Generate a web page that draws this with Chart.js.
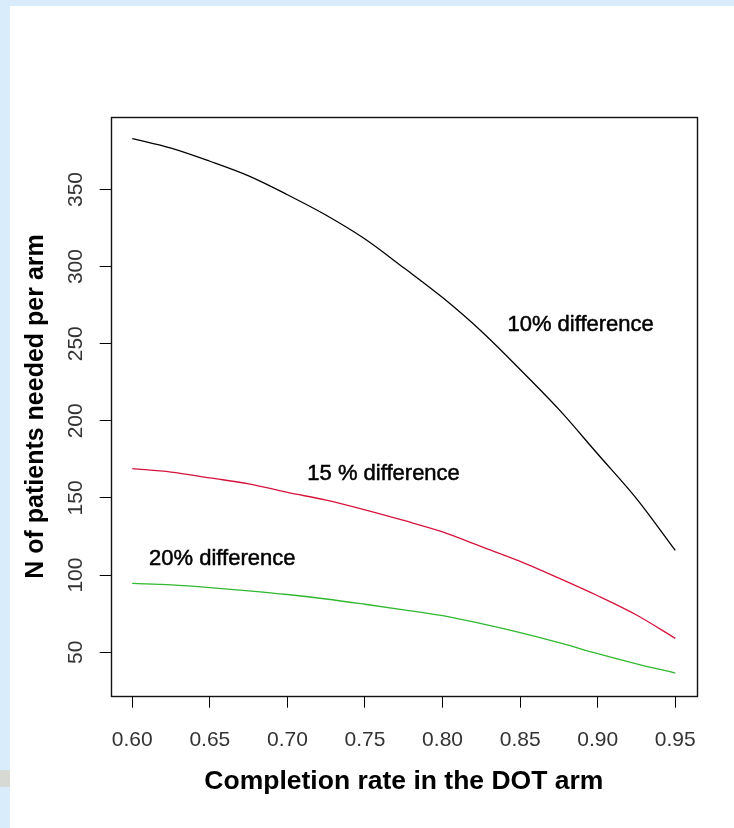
<!DOCTYPE html>
<html><head><meta charset="utf-8">
<script src="https://cdn.jsdelivr.net/npm/chart.js@4"></script>
<style>
html,body{margin:0;padding:0;width:734px;height:828px;overflow:hidden;background:#d8ecfc;}
#panel{position:absolute;left:10px;top:6px;width:724px;height:822px;background:#fff;}
#gray{position:absolute;left:0;top:770px;width:10px;height:17px;background:#d6d9d4;}
#wrap{position:absolute;left:0;top:0;width:734px;height:828px;}
</style></head><body>
<div id="panel"></div><div id="gray"></div>
<div id="wrap"><canvas id="c" width="734" height="828"></canvas></div>
<script>
// ---- data ----
const completionRates = [0.600,0.625,0.650,0.675,0.700,0.725,0.750,0.775,0.800,0.825,0.850,0.875,0.900,0.925,0.950];
const diff10 = [383,376.8,368.3,358.8,346.6,333.3,317.9,299.2,279.9,258.1,233.3,207.4,178.5,149.6,116];
const diff15 = [169,166.8,163.0,159.2,153.6,148.6,142.3,135.4,128,118.4,108.9,98,86.6,74.1,59];
const diff20 = [94.6,93.6,91.9,89.8,87.4,84.5,81.1,77.5,73.7,68.5,62.7,56.2,49.1,42.5,36.5];
const xTickValues = [0.60,0.65,0.70,0.75,0.80,0.85,0.90,0.95];
const yTickValues = [50,100,150,200,250,300,350];
const curveLabels = ['10% difference','15 % difference','20% difference'];
const curveLabelX = [0.889,0.762,0.658];
const curveLabelY = [262,165.4,110.4];
const xTitle = 'Completion rate in the DOT arm';
const yTitle = 'N of patients needed per arm';

const toPts = vals => completionRates.map((r,i)=>({x:r,y:vals[i]}));

const FONT = 'Liberation Sans, Arial, sans-serif';

const frame = {
  id:'frame',
  afterDatasetsDraw(chart){
    const {ctx, chartArea:a, scales:{x,y}} = chart;
    ctx.save();
    ctx.strokeStyle='#111'; ctx.lineWidth=1.4;
    const l=Math.round(a.left)+0.5, t=Math.round(a.top)+0.5, r=Math.round(a.right)+0.5, b=Math.round(a.bottom)+0.5;
    ctx.strokeRect(l,t,r-l,b-t);
    ctx.font='22px '+FONT; ctx.fillStyle='#000'; ctx.strokeStyle='#000'; ctx.lineWidth=0.5;
    ctx.textAlign='center'; ctx.textBaseline='middle';
    curveLabels.forEach((txt,i)=>{
      const px=x.getPixelForValue(curveLabelX[i]), py=y.getPixelForValue(curveLabelY[i]);
      ctx.fillText(txt, px, py);
      ctx.strokeText(txt, px, py);
    });
    ctx.restore();
  }
};

new Chart(document.getElementById('c'), {
  type:'line',
  data:{datasets:[
    {label:'10% difference', data:toPts(diff10), borderColor:'#000000', borderWidth:1.3, pointRadius:0, cubicInterpolationMode:'monotone'},
    {label:'15 % difference', data:toPts(diff15), borderColor:'#d4143c', borderWidth:1.3, pointRadius:0, cubicInterpolationMode:'monotone'},
    {label:'20% difference', data:toPts(diff20), borderColor:'#30b830', borderWidth:1.3, pointRadius:0, cubicInterpolationMode:'monotone'}
  ]},
  options:{
    responsive:false, animation:false, devicePixelRatio:1,
    layout:{padding:{left:0, top:117.3, right:37, bottom:0}},
    plugins:{legend:{display:false}, tooltip:{enabled:false}},
    scales:{
      x:{type:'linear', min:0.5861, max:0.964,
        afterBuildTicks:s=>{s.ticks=xTickValues.map(v=>({value:v}));},
        afterFit:s=>{s.height=828-695.7;},
        ticks:{callback:v=>Number(v).toFixed(2), font:{family:FONT,size:21}, color:'#333', padding:20, maxRotation:0, autoSkip:false},
        grid:{drawOnChartArea:false, drawTicks:true, tickLength:12, color:'#000', lineWidth:1},
        border:{display:false},
        title:{display:true, text:xTitle, color:'#000', font:{family:FONT,size:26.5,weight:'bold'}, padding:{top:0,bottom:30}}
      },
      y:{type:'linear', min:21.8, max:396.8,
        afterBuildTicks:s=>{s.ticks=yTickValues.map(v=>({value:v}));},
        afterFit:s=>{s.width=110.7;},
        ticks:{font:{family:FONT,size:21}, color:'#333', padding:6.4, crossAlign:'center', minRotation:90, maxRotation:90, autoSkip:false},
        grid:{drawOnChartArea:false, drawTicks:true, tickLength:11, color:'#000', lineWidth:1},
        border:{display:false},
        title:{display:true, text:yTitle, color:'#000', font:{family:FONT,size:25,weight:'bold'}, padding:{top:20.8,bottom:0}}
      }
    }
  },
  plugins:[frame]
});
</script>
</body></html>
